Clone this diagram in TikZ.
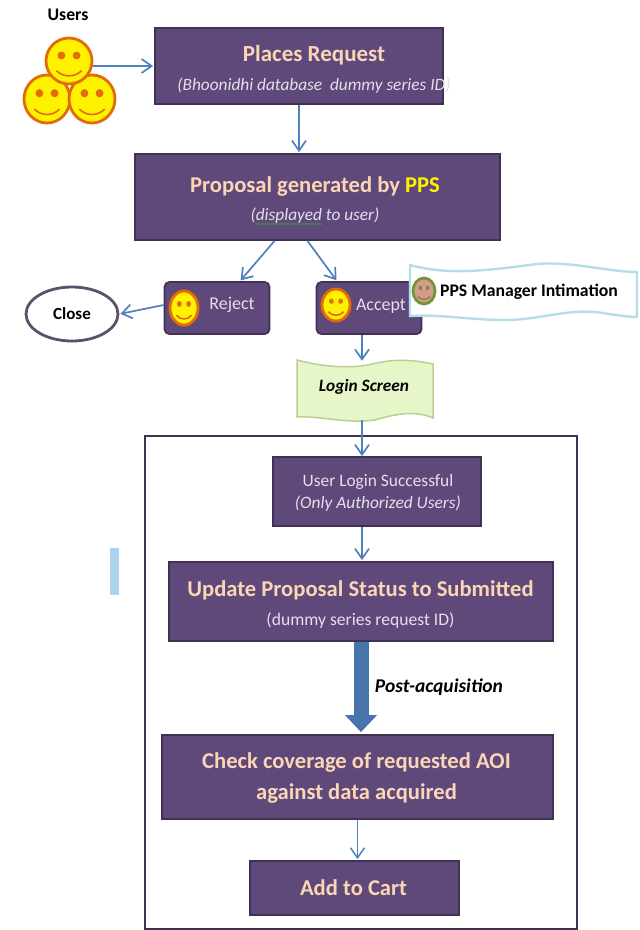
\documentclass[tikz,border=0pt]{standalone}
\usepackage{fontspec}
\setmainfont{Carlito}
\usetikzlibrary{arrows.meta,shapes.geometric}
\definecolor{boxfill}{HTML}{5F497A}
\definecolor{boxline}{HTML}{3F3151}
\definecolor{peach}{HTML}{FBD5B5}
\definecolor{lilac}{HTML}{E5DFEC}
\definecolor{arrowblue}{HTML}{4F81BD}
\definecolor{wavegreen}{HTML}{E6F6C8}
\definecolor{waveedge}{HTML}{B9D08E}
\definecolor{waveblue}{HTML}{B7DDE8}
\definecolor{barblue}{HTML}{AED3EF}
\definecolor{rimorange}{HTML}{E36C0A}
\definecolor{managerface}{HTML}{D99A8C}
\definecolor{managerrim}{HTML}{77933C}
\newcommand{\fsz}[1]{\fontsize{#1}{#1}\selectfont}
\newcommand{\smiley}[7]{%
\node[face,minimum width=2*#4,minimum height=2*#5,fill=#6,draw=#7] (#1) at (#2,#3) {};
\begin{scope}[shift={(#2,#3)},xscale=#4,yscale=#5]
\fill[#7] (-0.33,-0.24) circle [radius=0.17];
\fill[#7] (0.33,-0.24) circle [radius=0.17];
\draw[#7,line width=1.6pt] (-0.55,0.42) .. controls (-0.25,0.72) and (0.25,0.72) .. (0.55,0.42);
\end{scope}}
\begin{document}
\begin{tikzpicture}[x=1pt,y=-1pt,
  box/.style={shape=rectangle,draw=boxline,line width=1.8pt,fill=boxfill,inner sep=0pt},
  boxtext/.style={text=peach,inner sep=0pt,align=center,font=\fsz{22.6}\bfseries},
  choice/.style={box,rounded corners=5pt,minimum width=105pt,minimum height=52pt},
  face/.style={shape=ellipse,inner sep=0pt,line width=2.8pt},
  arr/.style={-{Straight Barb[length=10pt,width=14pt]},line width=1.7pt,draw=arrowblue,shorten >=1pt},
  note/.style={shape=rectangle,inner sep=0pt,text=black,font=\fsz{17.7}\bfseries}]
\useasboundingbox (0,0) rectangle (640,930);

\fill[white] (0,0) rectangle (640,930);
\fill[barblue] (110,548) rectangle (119,595);
\node[note] (users) at (68,15) {Users};

\smiley{userA}{47}{99}{23pt}{24pt}{yellow}{rimorange}
\smiley{userB}{92}{99}{23pt}{24pt}{yellow}{rimorange}
\smiley{userC}{69}{61}{23pt}{23pt}{yellow}{rimorange}

\node[box,minimum width=288pt,minimum height=76pt] (places) at (299,66) {};
\node[boxtext,font=\fsz{23}\bfseries] (placestext) at (314,69) {Places Request\\[6pt]{\fsz{17.3}\mdseries\itshape\color{lilac}(Bhoonidhi database\ \ dummy series ID)}};
\draw[arr] (places.west -| userC.east) -- (places.west);

\node[box,minimum width=365pt,minimum height=86pt] (proposal) at (317.5,197) {};
\node[boxtext] (proposaltext) at (315,200) {Proposal generated by {\color{yellow}PPS}\\[6pt]{\fsz{17.3}\mdseries\itshape\color{lilac}(displayed to user)}};
\draw[arr] (places.south) -- (places.south |- proposal.north);
\draw[green!25!black!70,line width=1.5pt] (255,224) -- (322,224);

\node[choice] (reject) at (217,308) {};
\node[choice] (accept) at (369,308) {};
\smiley{rejectface}{184}{308}{14pt}{17pt}{yellow}{rimorange}
\smiley{acceptface}{336}{305}{14pt}{16pt}{yellow}{rimorange}
\node[text=lilac,font=\fsz{18}] (rejecttext) at (232,305) {Reject};
\node[text=lilac,font=\fsz{18}] (accepttext) at (381,306) {Accept};
\draw[arr] ([xshift=-43pt]proposal.south) -- ([xshift=23pt]reject.north);
\draw[arr] ([xshift=-10pt]proposal.south) -- ([xshift=-32pt]accept.north);

\node[face,draw=boxline!85!white,fill=white,minimum width=92pt,minimum height=54pt,font=\fsz{17}\bfseries] (close) at (72,314) {Close};
\draw[arr] ([yshift=3pt]reject.west) -- (close.east);

\draw[waveblue,line width=2.4pt,fill=white] (410,265) .. controls (450,276) and (490,270) .. (537,264) .. controls (570,261) and (610,272) .. (637,272) -- (637,317) .. controls (610,316) and (600,310) .. (575,312) .. controls (550,314) and (530,320) .. (505,320) .. controls (470,320) and (440,314) .. (410,316) -- cycle;
\smiley{managerrface}{424}{291}{11pt}{13pt}{managerface}{managerrim}
\node[note] (manager) at (529,292) {PPS Manager Intimation};

\draw[waveedge,line width=1.5pt,fill=wavegreen] (297,360) .. controls (320,366) and (340,368) .. (362,366) .. controls (380,363) and (395,356) .. (433,364) -- (433,418) .. controls (415,410) and (395,414) .. (375,420) .. controls (345,424) and (325,416) .. (297,417) -- cycle;
\node[shape=rectangle,minimum width=136pt,minimum height=58pt,inner sep=0pt] (login) at (365,391) {};
\node[font=\fsz{17.3}\bfseries\itshape] (logintext) at (364,387) {Login Screen};
\draw[arr] ([xshift=-7pt]accept.south) -- ([xshift=-3pt]login.north);

\draw[boxline,line width=2.4pt] (145,436) rectangle (577,929);

\node[box,minimum width=208pt,minimum height=69pt] (userlogin) at (377,491.5) {};
\node[boxtext,font=\fsz{17.4},text=lilac] (userlogintext) at (378,493) {User Login Successful\\[5pt]{\itshape (Only Authorized Users)}};
\draw[arr,shorten >=0pt] ([xshift=-3pt]login.south) -- ([xshift=-15pt]userlogin.north);

\node[box,minimum width=384pt,minimum height=79pt] (update) at (361,601.5) {};
\node[boxtext] (updatetext) at (360.5,604.5) {Update Proposal Status to Submitted\\[6pt]{\fsz{17.6}\mdseries\color{lilac}(dummy series request ID)}};
\draw[arr] ([xshift=-15pt]userlogin.south) -- ([xshift=1pt]update.north);

\node[box,minimum width=391pt,minimum height=84pt] (check) at (357.5,777) {};
\node[boxtext] (checktext) at (356.5,778) {Check coverage of requested AOI\\[9pt]against data acquired};
\draw[draw=arrowblue!90!black,line width=15pt,shorten >=2pt,-{Triangle[length=17pt,width=31pt]}] (update.south) -- (update.south |- check.north);
\node[font=\fsz{19.5}\bfseries\itshape] (post) at (439,687) {Post-acquisition};

\node[box,minimum width=209pt,minimum height=54pt] (cart) at (354.5,888) {};
\node[boxtext] (carttext) at (353.5,888) {Add to Cart};
\draw[arr,line width=1.5pt] (check.south) -- (check.south |- cart.north);
\end{tikzpicture}
\end{document}
